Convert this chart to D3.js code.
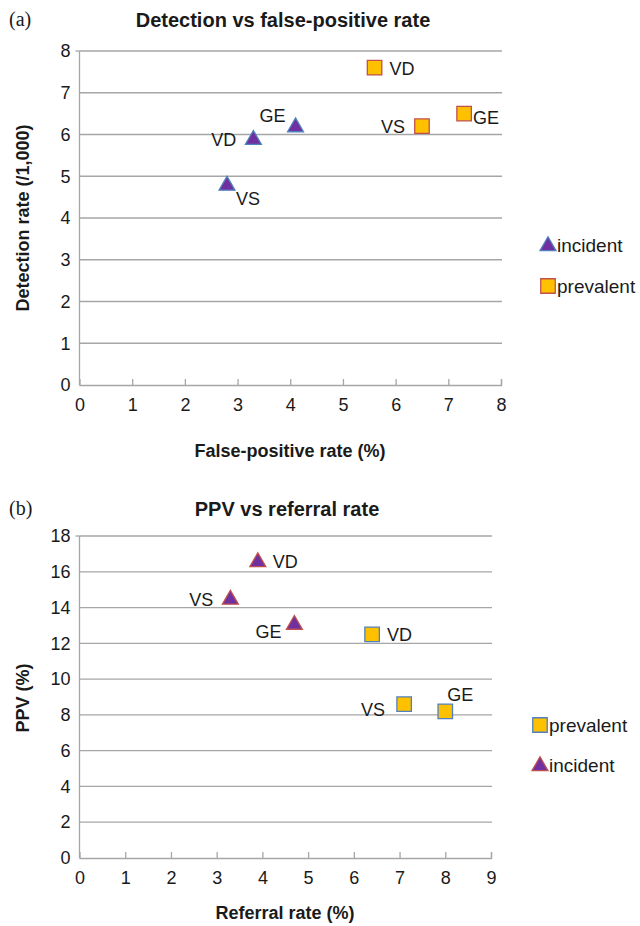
<!DOCTYPE html>
<html><head><meta charset="utf-8">
<script src="https://cdn.jsdelivr.net/npm/d3@7/dist/d3.min.js"></script>
<style>
body{margin:0;background:#fff;}
text{font-family:"Liberation Sans",Arial,sans-serif;fill:#1a1a1a;}
</style></head>
<body><svg id="c" width="640" height="926"></svg>
<script>
// ---- Data ----
const sites = ["VS","VD","GE"];
// Chart (a): Detection rate vs false-positive rate
const aIncidentFP = [2.8, 3.3, 4.1];
const aIncidentDet = [4.8, 5.9, 6.2];
const aPrevalentFP = [6.5, 5.6, 7.3];
const aPrevalentDet = [6.2, 7.6, 6.5];
const aXTicks = [0,1,2,3,4,5,6,7,8];
const aYTicks = [0,1,2,3,4,5,6,7,8];
// Chart (b): PPV vs referral rate
const bIncidentRef = [3.3, 3.9, 4.7];
const bIncidentPPV = [14.5, 16.6, 13.1];
const bPrevalentRef = [7.1, 6.4, 8.0];
const bPrevalentPPV = [8.6, 12.5, 8.2];
const bXTicks = [0,1,2,3,4,5,6,7,8,9];
const bYTicks = [0,2,4,6,8,10,12,14,16,18];

// label placement codes (layout only)
const aIncPlace = ["rb","l","al"];
const aPrevPlace = ["l","r","r2"];
const bIncPlace = ["l","r","bl"];
const bPrevPlace = ["lb","r","ar"];

const svg = d3.select("#c");
const PURPLE="#7030A0", GOLD="#FFC000", BLUE="#4F81BD", RED="#C0504D";

function drawChart(o){
  const g = svg.append("g");
  const x = d3.scaleLinear().domain(o.xDomain).range([o.left,o.right]);
  const y = d3.scaleLinear().domain(o.yDomain).range([o.bottom,o.top]);
  // gridlines
  g.selectAll("line.grid").data(o.yTicks.filter(d=>d>o.yDomain[0])).enter().append("line")
    .attr("x1",o.left).attr("x2",o.right+1).attr("y1",d=>y(d)).attr("y2",d=>y(d))
    .attr("stroke","#a6a6a6").attr("stroke-width",1.3);
  // x axis
  const xa = g.append("g").attr("transform",`translate(0,${o.bottom})`)
    .call(d3.axisBottom(x).tickValues(o.xTicks).tickSize(-6).tickPadding(13).tickFormat(d3.format("d")));
  xa.select(".domain").attr("stroke","#a6a6a6").attr("stroke-width",1.3);
  xa.selectAll(".tick line").attr("stroke","#a6a6a6").attr("stroke-width",1.3);
  xa.selectAll(".tick text").attr("font-size",18).attr("dy","0.71em").style("font-family","Liberation Sans, Arial");
  xa.selectAll(".tick").filter(d=>d===o.xDomain[0]).select("line").remove();
  // y axis
  const ya = g.append("g").attr("transform",`translate(${o.left},0)`)
    .call(d3.axisLeft(y).tickValues(o.yTicks).tickSize(0).tickPadding(9).tickFormat(d3.format("d")));
  ya.select(".domain").attr("stroke","#a6a6a6").attr("stroke-width",1.3).attr("d",`M0,${o.top}V${o.bottom}`);
  ya.selectAll(".tick text").attr("font-size",18).style("font-family","Liberation Sans, Arial");
  g.append("line").attr("x1",o.left-4).attr("x2",o.left).attr("y1",o.top).attr("y2",o.top).attr("stroke","#a6a6a6").attr("stroke-width",1.3);

  // titles
  g.append("text").attr("x",o.titleX).attr("y",o.titleY).attr("text-anchor","middle")
    .attr("font-size",20).attr("font-weight","bold").text(o.title);
  g.append("text").attr("x",9).attr("y",o.titleY-1).attr("font-size",20)
    .style("font-family","Liberation Serif, Times New Roman, serif").text(o.panel);
  g.append("text").attr("x",o.xLabelX).attr("y",o.xLabelY).attr("text-anchor","middle")
    .attr("font-size",18).attr("font-weight","bold").text(o.xLabel);
  g.append("text").attr("transform",`translate(29,${o.yLabelY}) rotate(-90)`).attr("text-anchor","middle")
    .attr("font-size",18).attr("font-weight","bold").text(o.yLabel);

  const tri = d3.symbol().type(d3.symbolTriangle).size(110);
  const sq = d3.symbol().type(d3.symbolSquare).size(210);

  function series(xs, ys, shape, fill, stroke, places){
    const pts = sites.map((s,i)=>({s, x:xs[i], y:ys[i], p:places[i]}));
    g.selectAll(null).data(pts).enter().append("path")
      .attr("d", shape).attr("transform",d=>`translate(${x(d.x)},${y(d.y)+(shape===tri?1:0)})`)
      .attr("fill",fill).attr("stroke",stroke).attr("stroke-width",1.3);
    const off = {r:[15,7,"start"], r2:[9,10,"start"], l:[-17,7,"end"], rb:[9,20,"start"], al:[-10,-4,"end"],
                 bl:[-13,14,"end"], lb:[-19,12,"end"], ar:[2,-10,"start"]};
    g.selectAll(null).data(pts).enter().append("text")
      .attr("x",d=>x(d.x)+off[d.p][0]).attr("y",d=>y(d.y)+off[d.p][1])
      .attr("text-anchor",d=>off[d.p][2]).attr("font-size",18).text(d=>d.s);
  }
  o.series.forEach(s=>series(s.xs,s.ys,s.shape==="tri"?tri:sq,s.fill,s.stroke,s.places));

  // legend
  o.series.forEach((s,i)=>{
    const ly = o.legendY[i];
    g.append("path").attr("d", s.shape==="tri"?tri:sq)
      .attr("transform",`translate(${o.legendX},${ly+(s.shape==="tri"?1:0)})`)
      .attr("fill",s.fill).attr("stroke",s.stroke).attr("stroke-width",1.3);
    g.append("text").attr("x",o.legendX+9).attr("y",ly+7).attr("font-size",19).text(s.name);
  });
}

drawChart({
  left:79.5, right:501, top:51, bottom:385,
  xDomain:[0,8], yDomain:[0,8], xTicks:aXTicks, yTicks:aYTicks,
  title:"Detection vs false-positive rate", titleX:283, titleY:27, panel:"(a)",
  xLabel:"False-positive rate (%)", xLabelX:290, xLabelY:457,
  yLabel:"Detection rate (/1,000)", yLabelY:218,
  legendX:548, legendY:[245,286],
  series:[
    {name:"incident", xs:aIncidentFP, ys:aIncidentDet, shape:"tri", fill:PURPLE, stroke:BLUE, places:aIncPlace},
    {name:"prevalent", xs:aPrevalentFP, ys:aPrevalentDet, shape:"sq", fill:GOLD, stroke:RED, places:aPrevPlace}
  ]
});

drawChart({
  left:79.5, right:491, top:536, bottom:858,
  xDomain:[0,9], yDomain:[0,18], xTicks:bXTicks, yTicks:bYTicks,
  title:"PPV vs referral rate", titleX:287, titleY:516, panel:"(b)",
  xLabel:"Referral rate (%)", xLabelX:285, xLabelY:919,
  yLabel:"PPV (%)", yLabelY:698,
  legendX:540, legendY:[725,765],
  series:[
    {name:"prevalent", xs:bPrevalentRef, ys:bPrevalentPPV, shape:"sq", fill:GOLD, stroke:BLUE, places:bPrevPlace},
    {name:"incident", xs:bIncidentRef, ys:bIncidentPPV, shape:"tri", fill:PURPLE, stroke:RED, places:bIncPlace}
  ]
});
</script></body></html>
